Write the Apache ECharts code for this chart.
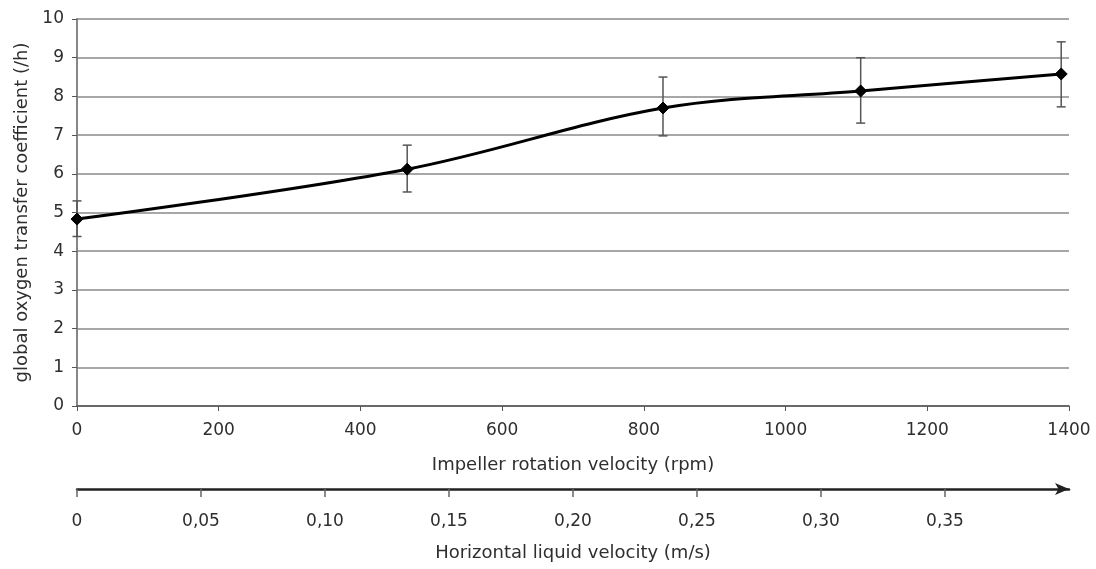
<!DOCTYPE html>
<html>
<head>
<meta charset="utf-8">
<script src="https://cdn.jsdelivr.net/npm/echarts@6/dist/echarts.min.js"></script>
<style>html,body{margin:0;padding:0;background:#fff}#c{width:1096px;height:569px}</style>
</head>
<body>
<div id="c"></div>
<script>
const rpm = [0, 466, 827, 1106, 1389];
const kla = [4.83, 6.12, 7.70, 8.14, 8.58];
const errLow = [4.38, 5.53, 6.98, 7.31, 7.73];
const errHigh = [5.30, 6.74, 8.50, 9.00, 9.41];
const velTicks = [0, 0.05, 0.10, 0.15, 0.20, 0.25, 0.30, 0.35];
const velLabels = ['0', '0,05', '0,10', '0,15', '0,20', '0,25', '0,30', '0,35'];
const rpmTicks = [0, 200, 400, 600, 800, 1000, 1200, 1400];
const yTicks = [0,1,2,3,4,5,6,7,8,9,10];

const FONT = 'DejaVu Sans';
const TXT = '#2e2e2e';
const FS = 17;
const NFS = 18;

const chart = echarts.init(document.getElementById('c'), null, {renderer: 'canvas'});
chart.setOption({
  backgroundColor: '#fff',
  animation: false,
  textStyle: {fontFamily: FONT, color: TXT},
  grid: {left: 77, right: 27, top: 19, bottom: 163, containLabel: false},
  xAxis: [
    {
      type: 'value', min: 0, max: 1400, interval: 200, position: 'bottom',
      name: 'Impeller rotation velocity (rpm)', nameLocation: 'middle', nameGap: 50,
      nameTextStyle: {fontFamily: FONT, fontSize: NFS, color: TXT},
      axisLine: {show: true, onZero: false, lineStyle: {color: '#555', width: 1.5}},
      axisTick: {show: true, length: 5, customValues: rpmTicks, lineStyle: {color: '#555'}},
      axisLabel: {fontFamily: FONT, fontSize: FS, color: TXT, margin: 16, customValues: rpmTicks,
        formatter: v => String(v)},
      splitLine: {show: false}
    },
    {
      type: 'value', min: 0, max: 0.40, interval: 0.05, position: 'bottom', offset: 83,
      name: 'Horizontal liquid velocity (m/s)', nameLocation: 'middle', nameGap: 55,
      nameTextStyle: {fontFamily: FONT, fontSize: NFS, color: TXT},
      axisLine: {show: true, onZero: false, symbol: ['none', 'arrow'], symbolSize: [9, 14], symbolOffset: [0, 0],
        lineStyle: {color: '#222', width: 2.5}},
      axisTick: {show: true, length: 8, customValues: velTicks, lineStyle: {color: '#666', width: 1.5}},
      axisLabel: {fontFamily: FONT, fontSize: FS, color: TXT, margin: 24, customValues: velTicks,
        formatter: v => velLabels[Math.round(v / 0.05)]},
      splitLine: {show: false}
    }
  ],
  yAxis: [
    {
      type: 'value', min: 0, max: 10, interval: 1,
      name: 'global oxygen transfer coefficient (/h)', nameLocation: 'middle', nameGap: 45,
      nameTextStyle: {fontFamily: FONT, fontSize: NFS, color: TXT},
      axisLine: {show: true, lineStyle: {color: '#555', width: 1.5}},
      axisTick: {show: true, length: 5, customValues: yTicks, lineStyle: {color: '#555'}},
      axisLabel: {fontFamily: FONT, fontSize: FS, color: TXT, margin: 13, customValues: yTicks},
      splitLine: {show: true, lineStyle: {color: '#8a8a8a', width: 1.5}}
    },
    {
      type: 'value', min: 0, max: 10, position: 'right',
      axisLine: {show: true, lineStyle: {color: '#8a8a8a', width: 1.5}},
      axisTick: {show: false}, axisLabel: {show: false}, splitLine: {show: false}
    }
  ],
  series: [
    {
      type: 'custom', xAxisIndex: 0, yAxisIndex: 0, z: 3,
      data: rpm.map((x, i) => [x, errLow[i], errHigh[i]]),
      renderItem: function (params, api) {
        const lo = api.coord([api.value(0), api.value(1)]);
        const hi = api.coord([api.value(0), api.value(2)]);
        const w = 4.5;
        const st = {stroke: '#555', lineWidth: 1.5};
        return {type: 'group', children: [
          {type: 'line', shape: {x1: lo[0], y1: lo[1], x2: hi[0], y2: hi[1]}, style: st},
          {type: 'line', shape: {x1: lo[0]-w, y1: lo[1], x2: lo[0]+w, y2: lo[1]}, style: st},
          {type: 'line', shape: {x1: hi[0]-w, y1: hi[1], x2: hi[0]+w, y2: hi[1]}, style: st}
        ]};
      }
    },
    {
      type: 'line', xAxisIndex: 0, yAxisIndex: 0, z: 4,
      data: rpm.map((x, i) => [x, kla[i]]),
      smooth: 0.35,
      symbol: 'diamond', symbolSize: 12, showSymbol: true,
      lineStyle: {color: '#000', width: 3},
      itemStyle: {color: '#000', borderColor: '#000'},
      clip: false
    }
  ]
});
</script>
</body>
</html>
